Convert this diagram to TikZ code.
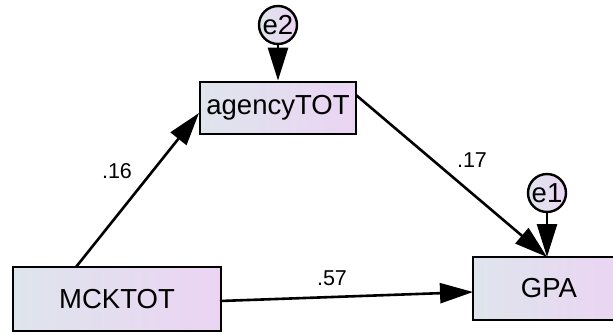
\documentclass[tikz,border=0pt]{standalone}
\usepackage{fontspec}
\setmainfont{Liberation Sans}
\usetikzlibrary{arrows.meta}
\definecolor{gleft}{RGB}{222,229,236}
\definecolor{gright}{RGB}{235,212,243}
\tikzset{
  varbox/.style={draw=black, line width=2.8pt, left color=gleft, right color=gright,
    inner sep=0pt, font=\fontsize{27.5}{30}\selectfont},
  errvar/.style={circle, draw=black, line width=2.4pt, left color=gleft, right color=gright,
    inner sep=0pt, minimum size=38pt, font=\fontsize{27.5}{30}\selectfont},
  conn/.style={line width=2.6pt, -{Triangle[length=33pt,width=20pt]}},
  coef/.style={inner sep=0pt, font=\fontsize{21.5}{24}\selectfont}
}
\begin{document}
\begin{tikzpicture}[x=1pt,y=-1pt]
\useasboundingbox (0,0) rectangle (613,333);
\clip (0,0) rectangle (613,333);
\node[varbox, minimum width=156pt, minimum height=52pt] (agency) at (278,108) {agencyTOT};
\node[varbox, minimum width=208pt, minimum height=64pt] (mck) at (117,299) {MCKTOT};
\node[varbox, minimum width=152pt, minimum height=63pt] (gpa) at (549,288.5) {GPA};
\node[errvar] (e2) at (278,25) {e2};
\node[errvar] (e1) at (547,193) {e1};
\coordinate (mckstart) at (76,267);
\coordinate (agencyin) at (199,113);
\coordinate (agencyout) at (356,95);
\coordinate (gpain) at (547,257);
\coordinate (mckout) at (220,301);
\coordinate (gpaleft) at (473,292);
\draw[conn] (e2) -- (e2 |- agency.north);
\draw[conn] (e1) -- (gpain);
\draw[conn] (mckstart) -- (agencyin);
\draw[conn] (agencyout) -- (gpain);
\draw[conn] (mckout) -- (gpaleft);
\node[coef] (c16) at (117,171) {.16};
\node[coef] (c17) at (472,160) {.17};
\node[coef] (c57) at (332,278) {.57};
\end{tikzpicture}
\end{document}
